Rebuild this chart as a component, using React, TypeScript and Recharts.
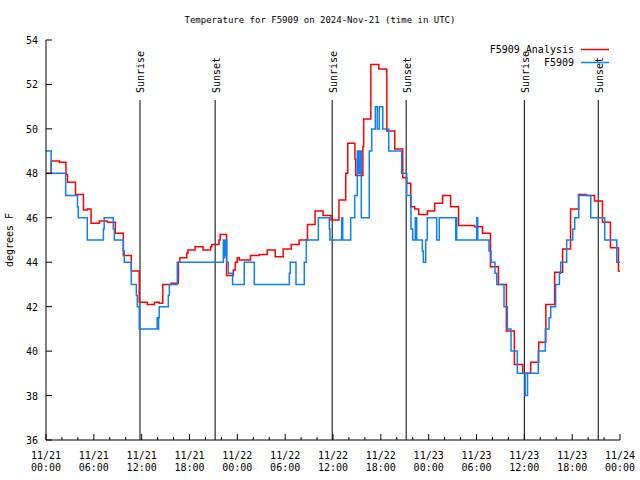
import React from 'react';
import { LineChart, Line, XAxis, YAxis, ReferenceLine, Legend } from 'recharts';

// [hour since 11/21 00:00 UTC, temperature F] - each point starts a step
const analysis: [number, number][] = [
  [0, 48.0], [0.65, 48.55], [1.7, 48.5], [2.5, 47.95], [2.7, 47.6], [3.7, 47.05],
  [4.7, 46.35], [5.2, 46.4], [5.65, 45.75], [6.7, 45.85], [7.7, 45.8], [8.7, 45.3],
  [9.7, 44.3], [10.7, 43.6], [11.7, 42.2], [12.7, 42.1], [13.6, 42.2], [14.2, 42.15],
  [14.65, 43.0], [15.7, 43.05], [16.6, 44.0], [16.8, 44.2], [17.65, 44.4], [17.8, 44.55],
  [18.7, 44.7], [19.7, 44.55], [20.65, 44.7], [20.8, 44.8], [21.7, 45.0], [21.85, 45.25],
  [22.65, 43.4], [23.5, 43.65], [23.75, 44.0], [24.0, 44.2], [24.25, 44.1], [25.65, 44.3],
  [26.75, 44.35], [27.75, 44.55], [28.75, 44.25], [29.75, 44.6], [30.75, 44.8], [31.75, 45.0],
  [32.8, 45.7], [33.75, 46.3], [34.75, 46.1], [35.75, 45.9], [36.75, 46.8], [37.6, 48.0],
  [37.85, 49.35], [38.75, 48.65], [38.85, 47.9], [39.75, 49.2], [39.85, 50.45], [40.75, 52.9],
  [41.75, 52.7], [42.75, 49.9], [43.75, 49.1], [44.75, 47.8], [45.25, 47.55], [45.75, 46.5],
  [46.25, 46.4], [46.75, 46.15], [47.85, 46.3], [48.75, 46.65], [49.75, 47.0], [50.75, 46.5],
  [51.75, 45.65], [53.75, 45.6], [54.75, 45.3], [55.75, 43.8], [56.75, 43.0], [57.75, 40.9],
  [58.75, 39.4], [59.8, 39.0], [60.8, 39.5], [61.8, 40.4], [62.7, 42.1], [63.8, 43.55],
  [64.8, 44.6], [65.8, 46.4], [66.8, 47.05], [67.8, 47.0], [68.8, 46.75], [69.8, 45.8],
  [70.8, 44.65], [71.8, 43.6], [72, 43.6],
];

const station: [number, number][] = [
  [0, 49], [0.65, 48], [2.47, 47], [3.95, 46.5], [4.05, 46], [5.18, 45], [7.2, 45.5],
  [7.3, 46], [8.44, 45.5], [8.57, 45], [9.7, 44.5], [9.82, 44], [10.7, 43], [11.33, 42.5],
  [11.45, 42], [11.7, 41], [13.95, 41.5], [14.05, 41], [14.12, 41.5], [14.2, 42],
  [15.34, 42.5], [15.47, 43], [16.47, 44], [22.24, 45], [22.32, 44.2], [22.4, 45],
  [22.5, 44.3], [22.58, 45], [22.67, 44], [22.87, 43.5], [23.4, 43], [24.87, 44],
  [26.13, 43], [30.52, 43.5], [30.64, 44], [31.36, 43], [32.4, 44], [32.65, 45],
  [34.16, 46], [35.54, 45.5], [35.62, 45], [37.09, 46], [37.22, 45], [38.22, 46],
  [38.72, 47], [39.05, 49], [39.22, 48], [39.39, 49], [39.55, 46], [40.55, 49],
  [40.86, 50], [41.31, 51], [41.56, 50], [41.81, 51], [42.24, 50], [42.99, 49],
  [44.62, 48], [45.25, 47], [45.78, 45.5], [46.0, 45], [46.32, 46], [46.5, 45],
  [47.2, 44.5], [47.33, 44], [47.63, 45], [47.83, 46], [49.01, 45], [49.33, 46],
  [51.4, 45], [51.45, 46], [51.52, 45], [54.03, 46], [54.16, 45], [55.57, 44.5],
  [55.82, 44], [56.32, 43.5], [56.54, 43], [57.45, 42], [57.87, 41], [58.33, 40],
  [59.12, 39], [60.1, 38], [60.4, 39], [61.75, 40], [62.63, 41], [63.1, 41.5],
  [63.31, 42], [63.93, 43], [64.4, 43.5], [64.56, 44], [65.31, 45], [66.07, 45.5],
  [66.32, 46], [66.82, 47], [68.33, 46], [70.08, 45], [71.59, 44], [72, 44],
];

const sunEvents: [number, string][] = [
  [11.79, 'Sunrise'], [21.22, 'Sunset'], [35.9, 'Sunrise'],
  [45.18, 'Sunset'], [60.0, 'Sunrise'], [69.27, 'Sunset'],
];

const xTicks = [0, 2, 4, 6, 8, 10, 12, 14, 16, 18, 20, 22, 24, 26, 28, 30, 32, 34, 36,
  38, 40, 42, 44, 46, 48, 50, 52, 54, 56, 58, 60, 62, 64, 66, 68, 70, 72];
const dateLabels = ['11/21', '11/21', '11/21', '11/21', '11/22', '11/22', '11/22',
  '11/22', '11/23', '11/23', '11/23', '11/23', '11/24'];
const timeLabels = ['00:00', '06:00', '12:00', '18:00', '00:00', '06:00', '12:00',
  '18:00', '00:00', '06:00', '12:00', '18:00', '00:00'];
const yTicks = [36, 38, 40, 42, 44, 46, 48, 50, 52, 54];
const legendOrder = ['F5909 Analysis', 'F5909'];

const FONT = '"DejaVu Sans Mono", monospace';
const RED = '#ff0000';
const BLUE = '#0c80f5';

const analysisData = analysis.map(([h, t]) => ({ h, t }));
const stationData = station.map(([h, t]) => ({ h, t }));

const BottomTick = (props: any) => {
  const { x, y, payload } = props;
  const major = payload.value % 6 === 0;
  const i = payload.value / 6;
  return (
    <g>
      <line x1={x} x2={x} y1={y} y2={y - (major ? 6 : 3)} stroke="#000" />
      {major && (
        <text x={x} y={y} textAnchor="middle" fontSize={10} fontFamily={FONT} fill="#000">
          <tspan x={x} dy={18.5}>{dateLabels[i]}</tspan>
          <tspan x={x} dy={12}>{timeLabels[i]}</tspan>
        </text>
      )}
    </g>
  );
};

const TopTick = (props: any) => {
  const { x, y, payload } = props;
  const major = payload.value % 6 === 0;
  return <line x1={x} x2={x} y1={y} y2={y + (major ? 6 : 3)} stroke="#000" />;
};

const LeftTick = (props: any) => {
  const { x, y, payload } = props;
  return (
    <g>
      <line x1={x} x2={x + 6} y1={y} y2={y} stroke="#000" />
      <text x={x - 8} y={y + 4} textAnchor="end" fontSize={10} fontFamily={FONT} fill="#000">
        {payload.value}
      </text>
    </g>
  );
};

const RightTick = (props: any) => {
  const { x, y } = props;
  return <line x1={x} x2={x - 6} y1={y} y2={y} stroke="#000" />;
};

const SunLabel = (props: any) => {
  const { viewBox, text } = props;
  const x = viewBox.x + 4.5;
  const y = viewBox.y - 7;
  return (
    <text x={x} y={y} transform={`rotate(-90 ${x} ${y})`} textAnchor="start"
      fontSize={10} fontFamily={FONT} fill="#000">
      {text}
    </text>
  );
};

const YTitle = (props: any) => {
  const { viewBox } = props;
  const x = viewBox.x + 7;
  const y = viewBox.y + viewBox.height / 2;
  return (
    <text x={x} y={y} transform={`rotate(-90 ${x} ${y})`} textAnchor="middle"
      fontSize={10} fontFamily={FONT} fill="#000">
      degrees F
    </text>
  );
};

const LegendBox = (props: any) => {
  const items = [...(props.payload || [])].sort(
    (a: any, b: any) => legendOrder.indexOf(a.value) - legendOrder.indexOf(b.value));
  return (
    <div style={{ fontFamily: FONT, fontSize: 10, color: '#000' }}>
      {items.map((p: any) => (
        <div key={p.value} style={{ display: 'flex', justifyContent: 'flex-end', alignItems: 'center', height: 13 }}>
          <span style={{ lineHeight: '13px' }}>{p.value}</span>
          <svg width={28} height={13} style={{ marginLeft: 7, display: 'block' }}>
            <line x1={0} x2={28} y1={6.5} y2={6.5} stroke={p.color} strokeWidth={1.5} />
          </svg>
        </div>
      ))}
    </div>
  );
};

export default function App() {
  return (
    <div style={{ position: 'absolute', left: 0, top: 0, width: 640, height: 480, background: '#fff' }}>
      <LineChart width={640} height={480} margin={{ top: 40, right: 20, bottom: 6, left: 6 }}>
        <XAxis xAxisId="b" dataKey="h" type="number" domain={[0, 72]} allowDataOverflow
          ticks={xTicks} interval={0} height={34} tickSize={0} tickMargin={0}
          axisLine={{ stroke: '#000' }} tickLine={false} tick={<BottomTick />} />
        <XAxis xAxisId="t" orientation="top" dataKey="h" type="number" domain={[0, 72]} allowDataOverflow
          ticks={xTicks} interval={0} height={0} tickSize={0} tickMargin={0}
          axisLine={{ stroke: '#000' }} tickLine={false} tick={<TopTick />} />
        <YAxis yAxisId="l" type="number" domain={[36, 54]} allowDataOverflow ticks={yTicks}
          interval={0} width={40} tickSize={0} tickMargin={0}
          axisLine={{ stroke: '#000' }} tickLine={false} tick={<LeftTick />}
          label={<YTitle />} />
        <YAxis yAxisId="r" orientation="right" type="number" domain={[36, 54]} allowDataOverflow
          ticks={yTicks} interval={0} width={0} tickSize={0} tickMargin={0}
          axisLine={{ stroke: '#000' }} tickLine={false} tick={<RightTick />} />
        {sunEvents.map(([h, name]) => (
          <ReferenceLine key={h} xAxisId="b" yAxisId="l"
            segment={[{ x: h, y: 51.3 }, { x: h, y: 36 }]}
            stroke="#000" strokeWidth={1} label={<SunLabel text={name} />} />
        ))}
        <Line xAxisId="b" yAxisId="l" data={analysisData} dataKey="t" name="F5909 Analysis"
          type="stepAfter" stroke={RED} strokeWidth={1.5} dot={false} activeDot={false}
          isAnimationActive={false} />
        <Line xAxisId="b" yAxisId="l" data={stationData} dataKey="t" name="F5909"
          type="stepAfter" stroke={BLUE} strokeWidth={1.5} dot={false} activeDot={false}
          isAnimationActive={false} />
        <Legend layout="vertical" align="center" verticalAlign="middle" content={<LegendBox />}
          wrapperStyle={{ position: 'absolute', left: 440, top: 43, width: 169, height: 26 }} />
      </LineChart>
      <div style={{ position: 'absolute', top: 13, left: 0, width: 640, textAlign: 'center',
        fontFamily: FONT, fontSize: 9, lineHeight: '14px', color: '#000' }}>
        Temperature for F5909 on 2024-Nov-21 (time in UTC)
      </div>
    </div>
  );
}
